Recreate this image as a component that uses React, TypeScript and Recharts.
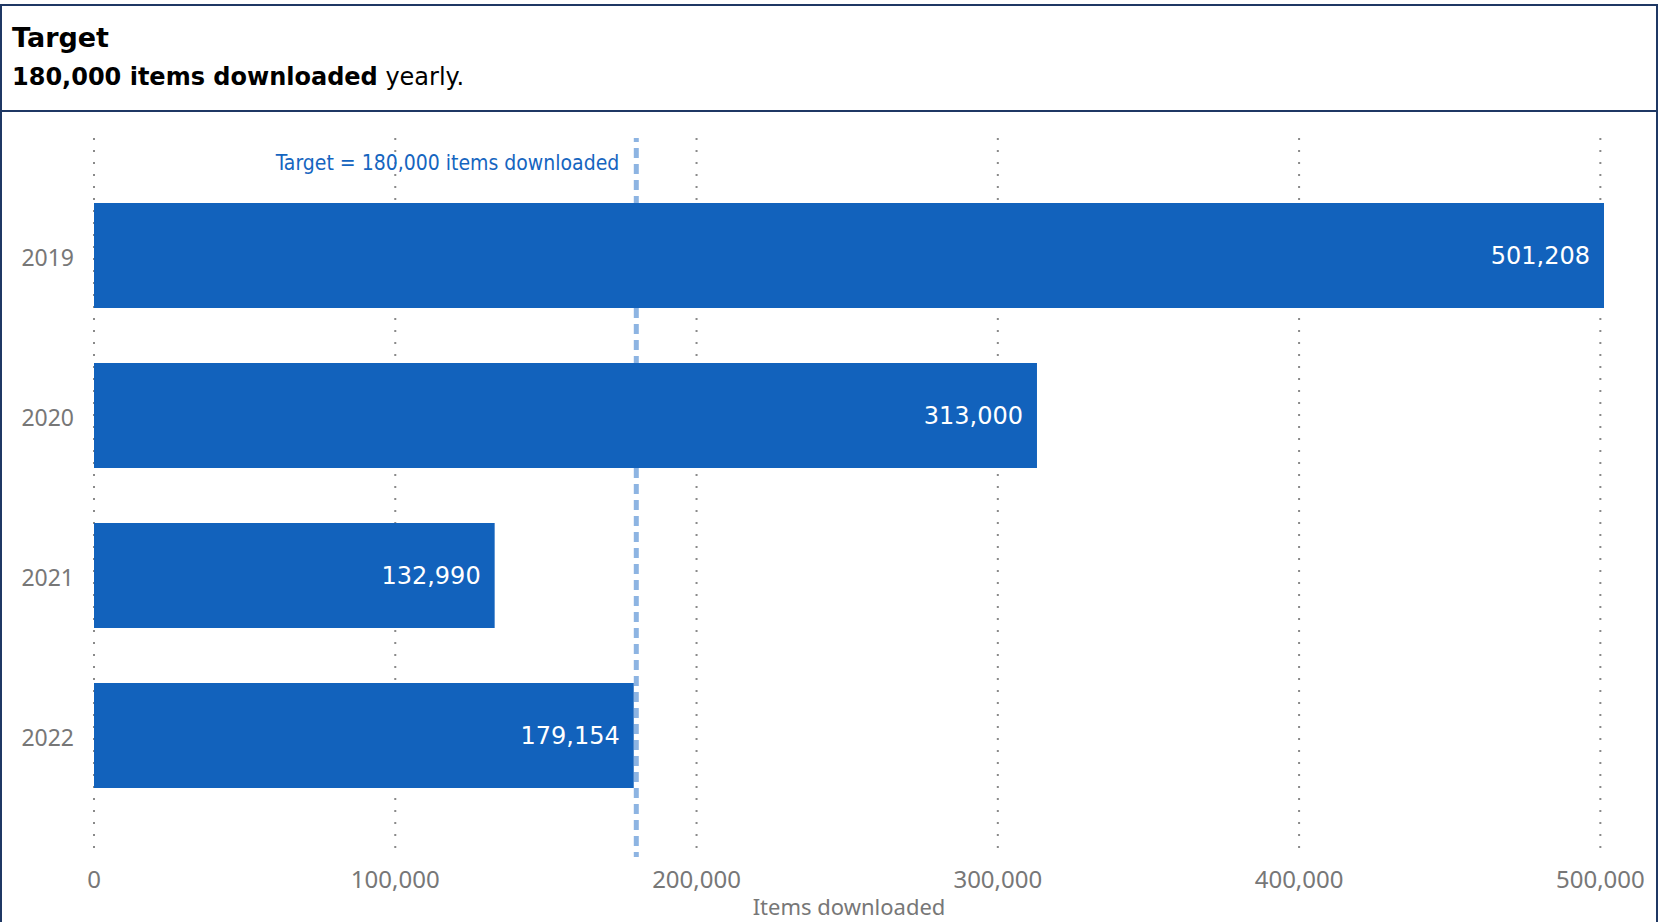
import React from 'react';
import { BarChart, Bar, XAxis, YAxis, CartesianGrid, ReferenceLine, LabelList } from 'recharts';

// values
const years = ['2019', '2020', '2021', '2022'];
const downloads = [501208, 313000, 132990, 179154];
const xTicks = [0, 100000, 200000, 300000, 400000, 500000];
const target = 180000;

const data = years.map((year, i) => ({ year, downloads: downloads[i] }));

const fmt = (v: number) => Number(v).toLocaleString('en-US');

const BAR_BLUE = '#1262BC';
const NAVY = '#1F3864';
const GREY = '#777777';

function TargetLabel(props: any) {
  const { viewBox } = props;
  if (!viewBox) return null;
  return (
    <text
      x={viewBox.x - 17}
      y={viewBox.y + 25}
      textAnchor="end"
      dominantBaseline="central"
      fill="#1565C0"
      fontFamily="'DejaVu Sans Condensed', 'DejaVu Sans', sans-serif"
      fontSize={21}
    >
      {`Target = ${fmt(target)} items downloaded`}
    </text>
  );
}

export default function App() {
  return (
    <div
      style={{
        position: 'absolute',
        left: 0,
        top: 4,
        width: 1658,
        height: 918,
        boxSizing: 'border-box',
        border: `2px solid ${NAVY}`,
        borderBottom: 'none',
        background: '#fff',
        overflow: 'hidden',
      }}
    >
      <div
        style={{
          position: 'relative',
          height: 104,
          borderBottom: `2px solid ${NAVY}`,
          fontFamily: "'DejaVu Sans', Verdana, sans-serif",
          color: '#000',
        }}
      >
        <div style={{ position: 'absolute', left: 10, top: 16, fontSize: 27, fontWeight: 'bold', lineHeight: '32px' }}>
          Target
        </div>
        <div style={{ position: 'absolute', left: 10, top: 57, fontSize: 24, lineHeight: '28px' }}>
          <b>180,000 items downloaded</b> yearly.
        </div>
      </div>
      <BarChart
        width={1654}
        height={810}
        data={data}
        layout="vertical"
        margin={{ top: 26, right: 52, bottom: 0, left: 0 }}
      >
        <CartesianGrid
          horizontal={false}
          vertical
          verticalValues={xTicks}
          stroke="#8a8a8a"
          strokeDasharray="2 10"
          strokeWidth={2}
        />
        <XAxis
          type="number"
          domain={[0, 500000]}
          ticks={xTicks}
          tickFormatter={fmt}
          axisLine={false}
          tickLine={false}
          tickSize={0}
          tickMargin={14}
          height={65}
          tick={{ fill: GREY, fontSize: 24, fontFamily: "'Noto Sans', sans-serif" }}
          label={{
            value: 'Items downloaded',
            position: 'insideBottom',
            offset: 7,
            fill: GREY,
            fontSize: 22,
            fontFamily: "'Noto Sans', sans-serif",
          }}
        />
        <YAxis
          type="category"
          dataKey="year"
          width={92}
          axisLine={false}
          tickLine={false}
          tickSize={0}
          tickMargin={20}
          padding={{ top: 37, bottom: 42 }}
          tick={{ fill: GREY, fontSize: 23, fontFamily: "'Noto Sans', sans-serif", dy: 3 }}
        />
        <ReferenceLine
          x={target}
          stroke="#8DB4E2"
          strokeWidth={5}
          strokeDasharray="10 6"
          strokeDashoffset={5}
          zIndex={-50}
          label={<TargetLabel />}
        />
        <Bar dataKey="downloads" fill={BAR_BLUE} barSize={105} isAnimationActive={false}>
          <LabelList
            dataKey="downloads"
            position="insideRight"
            offset={14}
            formatter={(v: any) => fmt(v)}
            fill="#ffffff"
            fontSize={24}
            fontFamily="'DejaVu Sans', Verdana, sans-serif"
          />
        </Bar>
      </BarChart>
    </div>
  );
}
